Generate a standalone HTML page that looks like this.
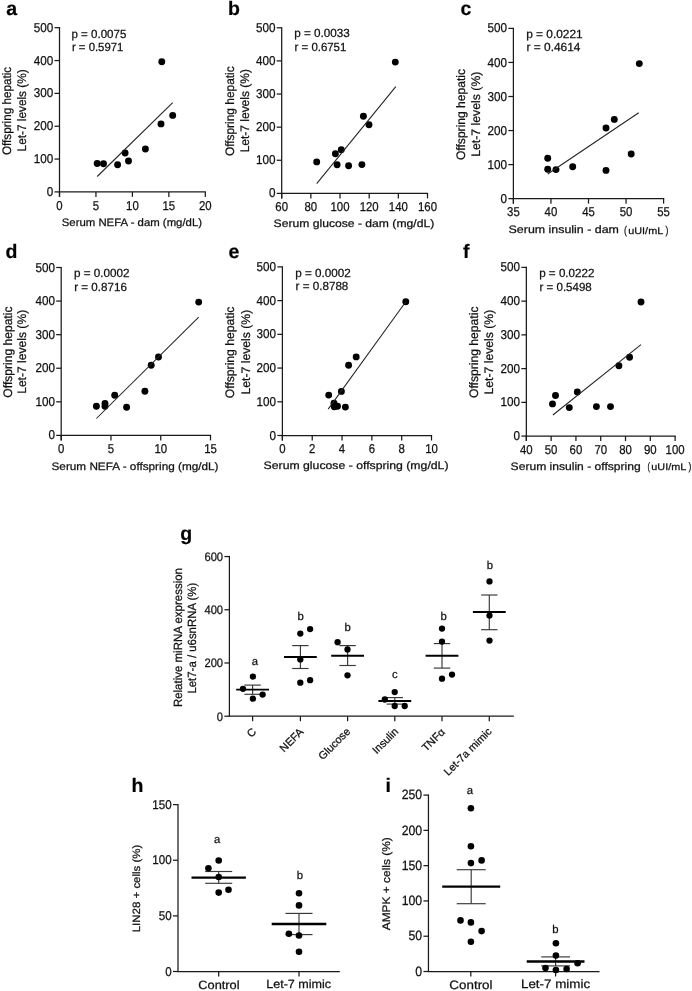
<!DOCTYPE html>
<html><head><meta charset="utf-8"><style>
html,body{margin:0;padding:0;background:#fff;width:692px;height:991px;overflow:hidden}
svg{display:block;font-family:"Liberation Sans", sans-serif;-webkit-font-smoothing:antialiased;will-change:transform;transform:translateZ(0)}
text{text-rendering:geometricPrecision;fill:#111;stroke:#111;stroke-width:0.25px}
</style></head><body>
<svg width="692" height="991" viewBox="0 0 692 991">
<rect width="692" height="991" fill="#fff"/>
<text x="6.20" y="15.40" font-size="19.5" font-weight="bold" style="fill:#000;stroke:#000;stroke-width:0.2px">a</text>
<line x1="59.50" y1="27.07" x2="59.50" y2="196.90" stroke="#1a1a1a" stroke-width="1.25"/>
<line x1="54.50" y1="191.90" x2="59.50" y2="191.90" stroke="#1a1a1a" stroke-width="1.25"/>
<text x="53.20" y="195.95" font-size="12.87" text-anchor="end" textLength="6.51" lengthAdjust="spacingAndGlyphs">0</text>
<line x1="54.50" y1="159.06" x2="59.50" y2="159.06" stroke="#1a1a1a" stroke-width="1.25"/>
<text x="53.20" y="163.11" font-size="12.87" text-anchor="end" textLength="19.52" lengthAdjust="spacingAndGlyphs">100</text>
<line x1="54.50" y1="126.22" x2="59.50" y2="126.22" stroke="#1a1a1a" stroke-width="1.25"/>
<text x="53.20" y="130.27" font-size="12.87" text-anchor="end" textLength="19.52" lengthAdjust="spacingAndGlyphs">200</text>
<line x1="54.50" y1="93.38" x2="59.50" y2="93.38" stroke="#1a1a1a" stroke-width="1.25"/>
<text x="53.20" y="97.43" font-size="12.87" text-anchor="end" textLength="19.52" lengthAdjust="spacingAndGlyphs">300</text>
<line x1="54.50" y1="60.54" x2="59.50" y2="60.54" stroke="#1a1a1a" stroke-width="1.25"/>
<text x="53.20" y="64.59" font-size="12.87" text-anchor="end" textLength="19.52" lengthAdjust="spacingAndGlyphs">400</text>
<line x1="54.50" y1="27.70" x2="59.50" y2="27.70" stroke="#1a1a1a" stroke-width="1.25"/>
<text x="53.20" y="31.75" font-size="12.87" text-anchor="end" textLength="19.52" lengthAdjust="spacingAndGlyphs">500</text>
<line x1="58.88" y1="191.90" x2="205.93" y2="191.90" stroke="#1a1a1a" stroke-width="1.25"/>
<line x1="59.50" y1="191.90" x2="59.50" y2="196.90" stroke="#1a1a1a" stroke-width="1.25"/>
<text x="59.50" y="209.53" font-size="12.87" text-anchor="middle" textLength="6.34" lengthAdjust="spacingAndGlyphs">0</text>
<line x1="95.95" y1="191.90" x2="95.95" y2="196.90" stroke="#1a1a1a" stroke-width="1.25"/>
<text x="95.95" y="209.53" font-size="12.87" text-anchor="middle" textLength="6.34" lengthAdjust="spacingAndGlyphs">5</text>
<line x1="132.40" y1="191.90" x2="132.40" y2="196.90" stroke="#1a1a1a" stroke-width="1.25"/>
<text x="132.40" y="209.53" font-size="12.87" text-anchor="middle" textLength="12.69" lengthAdjust="spacingAndGlyphs">10</text>
<line x1="168.85" y1="191.90" x2="168.85" y2="196.90" stroke="#1a1a1a" stroke-width="1.25"/>
<text x="168.85" y="209.53" font-size="12.87" text-anchor="middle" textLength="12.69" lengthAdjust="spacingAndGlyphs">15</text>
<line x1="205.30" y1="191.90" x2="205.30" y2="196.90" stroke="#1a1a1a" stroke-width="1.25"/>
<text x="205.30" y="209.53" font-size="12.87" text-anchor="middle" textLength="12.69" lengthAdjust="spacingAndGlyphs">20</text>
<circle cx="161.80" cy="61.80" r="3.45"/>
<circle cx="172.70" cy="115.40" r="3.45"/>
<circle cx="161.00" cy="123.90" r="3.45"/>
<circle cx="145.40" cy="149.00" r="3.45"/>
<circle cx="125.10" cy="153.00" r="3.45"/>
<circle cx="128.50" cy="161.00" r="3.45"/>
<circle cx="117.60" cy="164.80" r="3.45"/>
<circle cx="103.50" cy="163.70" r="3.45"/>
<circle cx="97.20" cy="163.50" r="3.45"/>
<line x1="97.20" y1="176.50" x2="172.70" y2="102.70" stroke="#222" stroke-width="1.05"/>
<text x="71.51" y="37.60" font-size="11.8" textLength="54.83" lengthAdjust="spacingAndGlyphs">p = 0.0075</text>
<text x="71.90" y="50.65" font-size="11.8" textLength="51.51" lengthAdjust="spacingAndGlyphs">r = 0.5971</text>
<text x="10.70" y="155.10" font-size="12.3" transform="rotate(-90 10.70 155.10)" textLength="88.26" lengthAdjust="spacingAndGlyphs">Offspring hepatic</text>
<text x="25.70" y="151.42" font-size="12.3" transform="rotate(-90 25.70 151.42)" textLength="82.10" lengthAdjust="spacingAndGlyphs">Let-7 levels (%)</text>
<text x="61.74" y="225.70" font-size="10.8" textLength="140.31" lengthAdjust="spacingAndGlyphs">Serum NEFA - dam (mg/dL)</text>
<text x="227.90" y="15.40" font-size="19.5" font-weight="bold" style="fill:#000;stroke:#000;stroke-width:0.2px">b</text>
<line x1="281.70" y1="27.18" x2="281.70" y2="198.40" stroke="#1a1a1a" stroke-width="1.25"/>
<line x1="276.70" y1="193.40" x2="281.70" y2="193.40" stroke="#1a1a1a" stroke-width="1.25"/>
<text x="275.40" y="197.45" font-size="12.87" text-anchor="end" textLength="6.51" lengthAdjust="spacingAndGlyphs">0</text>
<line x1="276.70" y1="160.28" x2="281.70" y2="160.28" stroke="#1a1a1a" stroke-width="1.25"/>
<text x="275.40" y="164.33" font-size="12.87" text-anchor="end" textLength="19.52" lengthAdjust="spacingAndGlyphs">100</text>
<line x1="276.70" y1="127.16" x2="281.70" y2="127.16" stroke="#1a1a1a" stroke-width="1.25"/>
<text x="275.40" y="131.21" font-size="12.87" text-anchor="end" textLength="19.52" lengthAdjust="spacingAndGlyphs">200</text>
<line x1="276.70" y1="94.04" x2="281.70" y2="94.04" stroke="#1a1a1a" stroke-width="1.25"/>
<text x="275.40" y="98.09" font-size="12.87" text-anchor="end" textLength="19.52" lengthAdjust="spacingAndGlyphs">300</text>
<line x1="276.70" y1="60.92" x2="281.70" y2="60.92" stroke="#1a1a1a" stroke-width="1.25"/>
<text x="275.40" y="64.97" font-size="12.87" text-anchor="end" textLength="19.52" lengthAdjust="spacingAndGlyphs">400</text>
<line x1="276.70" y1="27.80" x2="281.70" y2="27.80" stroke="#1a1a1a" stroke-width="1.25"/>
<text x="275.40" y="31.85" font-size="12.87" text-anchor="end" textLength="19.52" lengthAdjust="spacingAndGlyphs">500</text>
<line x1="281.07" y1="193.40" x2="428.12" y2="193.40" stroke="#1a1a1a" stroke-width="1.25"/>
<line x1="281.70" y1="193.40" x2="281.70" y2="198.40" stroke="#1a1a1a" stroke-width="1.25"/>
<text x="281.70" y="211.03" font-size="12.87" text-anchor="middle" textLength="12.69" lengthAdjust="spacingAndGlyphs">60</text>
<line x1="310.86" y1="193.40" x2="310.86" y2="198.40" stroke="#1a1a1a" stroke-width="1.25"/>
<text x="310.86" y="211.03" font-size="12.87" text-anchor="middle" textLength="12.69" lengthAdjust="spacingAndGlyphs">80</text>
<line x1="340.02" y1="193.40" x2="340.02" y2="198.40" stroke="#1a1a1a" stroke-width="1.25"/>
<text x="340.02" y="211.03" font-size="12.87" text-anchor="middle" textLength="19.03" lengthAdjust="spacingAndGlyphs">100</text>
<line x1="369.18" y1="193.40" x2="369.18" y2="198.40" stroke="#1a1a1a" stroke-width="1.25"/>
<text x="369.18" y="211.03" font-size="12.87" text-anchor="middle" textLength="19.03" lengthAdjust="spacingAndGlyphs">120</text>
<line x1="398.34" y1="193.40" x2="398.34" y2="198.40" stroke="#1a1a1a" stroke-width="1.25"/>
<text x="398.34" y="211.03" font-size="12.87" text-anchor="middle" textLength="19.03" lengthAdjust="spacingAndGlyphs">140</text>
<line x1="427.50" y1="193.40" x2="427.50" y2="198.40" stroke="#1a1a1a" stroke-width="1.25"/>
<text x="427.50" y="211.03" font-size="12.87" text-anchor="middle" textLength="19.03" lengthAdjust="spacingAndGlyphs">160</text>
<circle cx="395.30" cy="62.10" r="3.45"/>
<circle cx="363.40" cy="116.20" r="3.45"/>
<circle cx="369.00" cy="124.80" r="3.45"/>
<circle cx="341.30" cy="149.80" r="3.45"/>
<circle cx="335.40" cy="153.80" r="3.45"/>
<circle cx="316.70" cy="161.90" r="3.45"/>
<circle cx="337.10" cy="164.80" r="3.45"/>
<circle cx="348.60" cy="165.80" r="3.45"/>
<circle cx="361.90" cy="164.60" r="3.45"/>
<line x1="316.70" y1="183.70" x2="395.80" y2="86.70" stroke="#222" stroke-width="1.05"/>
<text x="294.20" y="37.00" font-size="11.8" textLength="55.67" lengthAdjust="spacingAndGlyphs">p = 0.0033</text>
<text x="294.59" y="50.90" font-size="11.8" textLength="51.72" lengthAdjust="spacingAndGlyphs">r = 0.6751</text>
<text x="234.10" y="156.11" font-size="12.3" transform="rotate(-90 234.10 156.11)" textLength="89.78" lengthAdjust="spacingAndGlyphs">Offspring hepatic</text>
<text x="249.50" y="152.33" font-size="12.3" transform="rotate(-90 249.50 152.33)" textLength="83.23" lengthAdjust="spacingAndGlyphs">Let-7 levels (%)</text>
<text x="273.60" y="226.70" font-size="10.8" textLength="160.60" lengthAdjust="spacingAndGlyphs">Serum glucose - dam (mg/dL)</text>
<text x="460.50" y="15.40" font-size="19.5" font-weight="bold" style="fill:#000;stroke:#000;stroke-width:0.2px">c</text>
<line x1="513.40" y1="27.78" x2="513.40" y2="203.65" stroke="#1a1a1a" stroke-width="1.25"/>
<line x1="508.40" y1="198.65" x2="513.40" y2="198.65" stroke="#1a1a1a" stroke-width="1.25"/>
<text x="507.10" y="202.70" font-size="12.87" text-anchor="end" textLength="6.51" lengthAdjust="spacingAndGlyphs">0</text>
<line x1="508.40" y1="164.60" x2="513.40" y2="164.60" stroke="#1a1a1a" stroke-width="1.25"/>
<text x="507.10" y="168.65" font-size="12.87" text-anchor="end" textLength="19.52" lengthAdjust="spacingAndGlyphs">100</text>
<line x1="508.40" y1="130.55" x2="513.40" y2="130.55" stroke="#1a1a1a" stroke-width="1.25"/>
<text x="507.10" y="134.60" font-size="12.87" text-anchor="end" textLength="19.52" lengthAdjust="spacingAndGlyphs">200</text>
<line x1="508.40" y1="96.50" x2="513.40" y2="96.50" stroke="#1a1a1a" stroke-width="1.25"/>
<text x="507.10" y="100.55" font-size="12.87" text-anchor="end" textLength="19.52" lengthAdjust="spacingAndGlyphs">300</text>
<line x1="508.40" y1="62.45" x2="513.40" y2="62.45" stroke="#1a1a1a" stroke-width="1.25"/>
<text x="507.10" y="66.50" font-size="12.87" text-anchor="end" textLength="19.52" lengthAdjust="spacingAndGlyphs">400</text>
<line x1="508.40" y1="28.40" x2="513.40" y2="28.40" stroke="#1a1a1a" stroke-width="1.25"/>
<text x="507.10" y="32.45" font-size="12.87" text-anchor="end" textLength="19.52" lengthAdjust="spacingAndGlyphs">500</text>
<line x1="512.77" y1="198.65" x2="664.23" y2="198.65" stroke="#1a1a1a" stroke-width="1.25"/>
<line x1="513.40" y1="198.65" x2="513.40" y2="203.65" stroke="#1a1a1a" stroke-width="1.25"/>
<text x="513.40" y="216.28" font-size="12.87" text-anchor="middle" textLength="12.69" lengthAdjust="spacingAndGlyphs">35</text>
<line x1="550.95" y1="198.65" x2="550.95" y2="203.65" stroke="#1a1a1a" stroke-width="1.25"/>
<text x="550.95" y="216.28" font-size="12.87" text-anchor="middle" textLength="12.69" lengthAdjust="spacingAndGlyphs">40</text>
<line x1="588.50" y1="198.65" x2="588.50" y2="203.65" stroke="#1a1a1a" stroke-width="1.25"/>
<text x="588.50" y="216.28" font-size="12.87" text-anchor="middle" textLength="12.69" lengthAdjust="spacingAndGlyphs">45</text>
<line x1="626.05" y1="198.65" x2="626.05" y2="203.65" stroke="#1a1a1a" stroke-width="1.25"/>
<text x="626.05" y="216.28" font-size="12.87" text-anchor="middle" textLength="12.69" lengthAdjust="spacingAndGlyphs">50</text>
<line x1="663.60" y1="198.65" x2="663.60" y2="203.65" stroke="#1a1a1a" stroke-width="1.25"/>
<text x="663.60" y="216.28" font-size="12.87" text-anchor="middle" textLength="12.69" lengthAdjust="spacingAndGlyphs">55</text>
<circle cx="639.30" cy="63.60" r="3.45"/>
<circle cx="614.30" cy="119.40" r="3.45"/>
<circle cx="606.00" cy="128.00" r="3.45"/>
<circle cx="631.20" cy="154.00" r="3.45"/>
<circle cx="547.70" cy="158.20" r="3.45"/>
<circle cx="547.70" cy="169.30" r="3.45"/>
<circle cx="556.00" cy="169.60" r="3.45"/>
<circle cx="572.70" cy="166.80" r="3.45"/>
<circle cx="606.00" cy="170.40" r="3.45"/>
<line x1="547.70" y1="174.00" x2="638.70" y2="112.70" stroke="#222" stroke-width="1.05"/>
<text x="526.18" y="38.25" font-size="11.8" textLength="56.55" lengthAdjust="spacingAndGlyphs">p = 0.0221</text>
<text x="526.56" y="51.25" font-size="11.8" textLength="53.94" lengthAdjust="spacingAndGlyphs">r = 0.4614</text>
<text x="464.60" y="160.02" font-size="12.3" transform="rotate(-90 464.60 160.02)" textLength="91.09" lengthAdjust="spacingAndGlyphs">Offspring hepatic</text>
<text x="480.50" y="156.86" font-size="12.3" transform="rotate(-90 480.50 156.86)" textLength="85.27" lengthAdjust="spacingAndGlyphs">Let-7 levels (%)</text>
<text x="508.59" y="232.80" font-size="10.8" textLength="110.38" lengthAdjust="spacingAndGlyphs">Serum insulin - dam</text>
<text x="623.91" y="233.60" font-size="11.2" textLength="2.89" lengthAdjust="spacingAndGlyphs">(</text>
<text x="628.25" y="233.60" font-size="9.6" textLength="34.96" lengthAdjust="spacingAndGlyphs">uUI/mL</text>
<text x="665.40" y="233.60" font-size="11.2" textLength="2.89" lengthAdjust="spacingAndGlyphs">)</text>
<text x="5.50" y="257.80" font-size="19.5" font-weight="bold" style="fill:#000;stroke:#000;stroke-width:0.2px">d</text>
<line x1="61.20" y1="266.88" x2="61.20" y2="440.40" stroke="#1a1a1a" stroke-width="1.25"/>
<line x1="56.20" y1="435.40" x2="61.20" y2="435.40" stroke="#1a1a1a" stroke-width="1.25"/>
<text x="54.90" y="439.45" font-size="12.87" text-anchor="end" textLength="6.51" lengthAdjust="spacingAndGlyphs">0</text>
<line x1="56.20" y1="401.82" x2="61.20" y2="401.82" stroke="#1a1a1a" stroke-width="1.25"/>
<text x="54.90" y="405.87" font-size="12.87" text-anchor="end" textLength="19.52" lengthAdjust="spacingAndGlyphs">100</text>
<line x1="56.20" y1="368.24" x2="61.20" y2="368.24" stroke="#1a1a1a" stroke-width="1.25"/>
<text x="54.90" y="372.29" font-size="12.87" text-anchor="end" textLength="19.52" lengthAdjust="spacingAndGlyphs">200</text>
<line x1="56.20" y1="334.66" x2="61.20" y2="334.66" stroke="#1a1a1a" stroke-width="1.25"/>
<text x="54.90" y="338.71" font-size="12.87" text-anchor="end" textLength="19.52" lengthAdjust="spacingAndGlyphs">300</text>
<line x1="56.20" y1="301.08" x2="61.20" y2="301.08" stroke="#1a1a1a" stroke-width="1.25"/>
<text x="54.90" y="305.13" font-size="12.87" text-anchor="end" textLength="19.52" lengthAdjust="spacingAndGlyphs">400</text>
<line x1="56.20" y1="267.50" x2="61.20" y2="267.50" stroke="#1a1a1a" stroke-width="1.25"/>
<text x="54.90" y="271.55" font-size="12.87" text-anchor="end" textLength="19.52" lengthAdjust="spacingAndGlyphs">500</text>
<line x1="60.58" y1="435.40" x2="211.12" y2="435.40" stroke="#1a1a1a" stroke-width="1.25"/>
<line x1="61.20" y1="435.40" x2="61.20" y2="440.40" stroke="#1a1a1a" stroke-width="1.25"/>
<text x="61.20" y="453.03" font-size="12.87" text-anchor="middle" textLength="6.34" lengthAdjust="spacingAndGlyphs">0</text>
<line x1="110.97" y1="435.40" x2="110.97" y2="440.40" stroke="#1a1a1a" stroke-width="1.25"/>
<text x="110.97" y="453.03" font-size="12.87" text-anchor="middle" textLength="6.34" lengthAdjust="spacingAndGlyphs">5</text>
<line x1="160.73" y1="435.40" x2="160.73" y2="440.40" stroke="#1a1a1a" stroke-width="1.25"/>
<text x="160.73" y="453.03" font-size="12.87" text-anchor="middle" textLength="12.69" lengthAdjust="spacingAndGlyphs">10</text>
<line x1="210.50" y1="435.40" x2="210.50" y2="440.40" stroke="#1a1a1a" stroke-width="1.25"/>
<text x="210.50" y="453.03" font-size="12.87" text-anchor="middle" textLength="12.69" lengthAdjust="spacingAndGlyphs">15</text>
<circle cx="198.70" cy="302.10" r="3.45"/>
<circle cx="158.50" cy="357.00" r="3.45"/>
<circle cx="151.20" cy="365.30" r="3.45"/>
<circle cx="144.90" cy="391.20" r="3.45"/>
<circle cx="114.70" cy="395.20" r="3.45"/>
<circle cx="105.00" cy="403.50" r="3.45"/>
<circle cx="105.00" cy="406.20" r="3.45"/>
<circle cx="96.40" cy="406.20" r="3.45"/>
<circle cx="126.60" cy="407.20" r="3.45"/>
<line x1="96.40" y1="418.50" x2="198.70" y2="317.10" stroke="#222" stroke-width="1.05"/>
<text x="73.90" y="276.85" font-size="11.8" textLength="55.54" lengthAdjust="spacingAndGlyphs">p = 0.0002</text>
<text x="74.28" y="290.75" font-size="11.8" textLength="52.58" lengthAdjust="spacingAndGlyphs">r = 0.8716</text>
<text x="11.60" y="397.62" font-size="12.3" transform="rotate(-90 11.60 397.62)" textLength="91.09" lengthAdjust="spacingAndGlyphs">Offspring hepatic</text>
<text x="26.10" y="393.84" font-size="12.3" transform="rotate(-90 26.10 393.84)" textLength="84.04" lengthAdjust="spacingAndGlyphs">Let-7 levels (%)</text>
<text x="51.52" y="469.60" font-size="10.8" textLength="166.95" lengthAdjust="spacingAndGlyphs">Serum NEFA - offspring (mg/dL)</text>
<text x="228.40" y="258.10" font-size="19.5" font-weight="bold" style="fill:#000;stroke:#000;stroke-width:0.2px">e</text>
<line x1="282.40" y1="266.27" x2="282.40" y2="440.50" stroke="#1a1a1a" stroke-width="1.25"/>
<line x1="277.40" y1="435.50" x2="282.40" y2="435.50" stroke="#1a1a1a" stroke-width="1.25"/>
<text x="276.10" y="439.55" font-size="12.87" text-anchor="end" textLength="6.51" lengthAdjust="spacingAndGlyphs">0</text>
<line x1="277.40" y1="401.78" x2="282.40" y2="401.78" stroke="#1a1a1a" stroke-width="1.25"/>
<text x="276.10" y="405.83" font-size="12.87" text-anchor="end" textLength="19.52" lengthAdjust="spacingAndGlyphs">100</text>
<line x1="277.40" y1="368.06" x2="282.40" y2="368.06" stroke="#1a1a1a" stroke-width="1.25"/>
<text x="276.10" y="372.11" font-size="12.87" text-anchor="end" textLength="19.52" lengthAdjust="spacingAndGlyphs">200</text>
<line x1="277.40" y1="334.34" x2="282.40" y2="334.34" stroke="#1a1a1a" stroke-width="1.25"/>
<text x="276.10" y="338.39" font-size="12.87" text-anchor="end" textLength="19.52" lengthAdjust="spacingAndGlyphs">300</text>
<line x1="277.40" y1="300.62" x2="282.40" y2="300.62" stroke="#1a1a1a" stroke-width="1.25"/>
<text x="276.10" y="304.67" font-size="12.87" text-anchor="end" textLength="19.52" lengthAdjust="spacingAndGlyphs">400</text>
<line x1="277.40" y1="266.90" x2="282.40" y2="266.90" stroke="#1a1a1a" stroke-width="1.25"/>
<text x="276.10" y="270.95" font-size="12.87" text-anchor="end" textLength="19.52" lengthAdjust="spacingAndGlyphs">500</text>
<line x1="281.77" y1="435.50" x2="432.12" y2="435.50" stroke="#1a1a1a" stroke-width="1.25"/>
<line x1="282.40" y1="435.50" x2="282.40" y2="440.50" stroke="#1a1a1a" stroke-width="1.25"/>
<text x="282.40" y="453.13" font-size="12.87" text-anchor="middle" textLength="6.34" lengthAdjust="spacingAndGlyphs">0</text>
<line x1="312.22" y1="435.50" x2="312.22" y2="440.50" stroke="#1a1a1a" stroke-width="1.25"/>
<text x="312.22" y="453.13" font-size="12.87" text-anchor="middle" textLength="6.34" lengthAdjust="spacingAndGlyphs">2</text>
<line x1="342.04" y1="435.50" x2="342.04" y2="440.50" stroke="#1a1a1a" stroke-width="1.25"/>
<text x="342.04" y="453.13" font-size="12.87" text-anchor="middle" textLength="6.34" lengthAdjust="spacingAndGlyphs">4</text>
<line x1="371.86" y1="435.50" x2="371.86" y2="440.50" stroke="#1a1a1a" stroke-width="1.25"/>
<text x="371.86" y="453.13" font-size="12.87" text-anchor="middle" textLength="6.34" lengthAdjust="spacingAndGlyphs">6</text>
<line x1="401.68" y1="435.50" x2="401.68" y2="440.50" stroke="#1a1a1a" stroke-width="1.25"/>
<text x="401.68" y="453.13" font-size="12.87" text-anchor="middle" textLength="6.34" lengthAdjust="spacingAndGlyphs">8</text>
<line x1="431.50" y1="435.50" x2="431.50" y2="440.50" stroke="#1a1a1a" stroke-width="1.25"/>
<text x="431.50" y="453.13" font-size="12.87" text-anchor="middle" textLength="12.69" lengthAdjust="spacingAndGlyphs">10</text>
<circle cx="405.80" cy="301.80" r="3.45"/>
<circle cx="356.20" cy="356.90" r="3.45"/>
<circle cx="348.60" cy="365.30" r="3.45"/>
<circle cx="341.40" cy="391.40" r="3.45"/>
<circle cx="328.70" cy="395.10" r="3.45"/>
<circle cx="334.00" cy="403.20" r="3.45"/>
<circle cx="334.30" cy="406.80" r="3.45"/>
<circle cx="337.50" cy="406.30" r="3.45"/>
<circle cx="345.40" cy="407.10" r="3.45"/>
<line x1="328.20" y1="409.10" x2="405.80" y2="301.80" stroke="#222" stroke-width="1.05"/>
<text x="295.20" y="276.90" font-size="11.8" textLength="55.54" lengthAdjust="spacingAndGlyphs">p = 0.0002</text>
<text x="295.58" y="289.65" font-size="11.8" textLength="52.78" lengthAdjust="spacingAndGlyphs">r = 0.8788</text>
<text x="234.40" y="398.22" font-size="12.3" transform="rotate(-90 234.40 398.22)" textLength="91.69" lengthAdjust="spacingAndGlyphs">Offspring hepatic</text>
<text x="249.90" y="394.45" font-size="12.3" transform="rotate(-90 249.90 394.45)" textLength="84.66" lengthAdjust="spacingAndGlyphs">Let-7 levels (%)</text>
<text x="263.59" y="469.40" font-size="10.8" textLength="184.91" lengthAdjust="spacingAndGlyphs">Serum glucose - offspring (mg/dL)</text>
<text x="462.90" y="257.50" font-size="19.5" font-weight="bold" style="fill:#000;stroke:#000;stroke-width:0.2px">f</text>
<line x1="526.35" y1="266.77" x2="526.35" y2="441.10" stroke="#1a1a1a" stroke-width="1.25"/>
<line x1="521.35" y1="436.10" x2="526.35" y2="436.10" stroke="#1a1a1a" stroke-width="1.25"/>
<text x="520.05" y="440.15" font-size="12.87" text-anchor="end" textLength="6.51" lengthAdjust="spacingAndGlyphs">0</text>
<line x1="521.35" y1="402.36" x2="526.35" y2="402.36" stroke="#1a1a1a" stroke-width="1.25"/>
<text x="520.05" y="406.41" font-size="12.87" text-anchor="end" textLength="19.52" lengthAdjust="spacingAndGlyphs">100</text>
<line x1="521.35" y1="368.62" x2="526.35" y2="368.62" stroke="#1a1a1a" stroke-width="1.25"/>
<text x="520.05" y="372.67" font-size="12.87" text-anchor="end" textLength="19.52" lengthAdjust="spacingAndGlyphs">200</text>
<line x1="521.35" y1="334.88" x2="526.35" y2="334.88" stroke="#1a1a1a" stroke-width="1.25"/>
<text x="520.05" y="338.93" font-size="12.87" text-anchor="end" textLength="19.52" lengthAdjust="spacingAndGlyphs">300</text>
<line x1="521.35" y1="301.14" x2="526.35" y2="301.14" stroke="#1a1a1a" stroke-width="1.25"/>
<text x="520.05" y="305.19" font-size="12.87" text-anchor="end" textLength="19.52" lengthAdjust="spacingAndGlyphs">400</text>
<line x1="521.35" y1="267.40" x2="526.35" y2="267.40" stroke="#1a1a1a" stroke-width="1.25"/>
<text x="520.05" y="271.45" font-size="12.87" text-anchor="end" textLength="19.52" lengthAdjust="spacingAndGlyphs">500</text>
<line x1="525.73" y1="436.10" x2="675.73" y2="436.10" stroke="#1a1a1a" stroke-width="1.25"/>
<line x1="526.35" y1="436.10" x2="526.35" y2="441.10" stroke="#1a1a1a" stroke-width="1.25"/>
<text x="526.35" y="453.73" font-size="12.87" text-anchor="middle" textLength="12.69" lengthAdjust="spacingAndGlyphs">40</text>
<line x1="551.14" y1="436.10" x2="551.14" y2="441.10" stroke="#1a1a1a" stroke-width="1.25"/>
<text x="551.14" y="453.73" font-size="12.87" text-anchor="middle" textLength="12.69" lengthAdjust="spacingAndGlyphs">50</text>
<line x1="575.93" y1="436.10" x2="575.93" y2="441.10" stroke="#1a1a1a" stroke-width="1.25"/>
<text x="575.93" y="453.73" font-size="12.87" text-anchor="middle" textLength="12.69" lengthAdjust="spacingAndGlyphs">60</text>
<line x1="600.73" y1="436.10" x2="600.73" y2="441.10" stroke="#1a1a1a" stroke-width="1.25"/>
<text x="600.73" y="453.73" font-size="12.87" text-anchor="middle" textLength="12.69" lengthAdjust="spacingAndGlyphs">70</text>
<line x1="625.52" y1="436.10" x2="625.52" y2="441.10" stroke="#1a1a1a" stroke-width="1.25"/>
<text x="625.52" y="453.73" font-size="12.87" text-anchor="middle" textLength="12.69" lengthAdjust="spacingAndGlyphs">80</text>
<line x1="650.31" y1="436.10" x2="650.31" y2="441.10" stroke="#1a1a1a" stroke-width="1.25"/>
<text x="650.31" y="453.73" font-size="12.87" text-anchor="middle" textLength="12.69" lengthAdjust="spacingAndGlyphs">90</text>
<line x1="675.10" y1="436.10" x2="675.10" y2="441.10" stroke="#1a1a1a" stroke-width="1.25"/>
<text x="675.10" y="453.73" font-size="12.87" text-anchor="middle" textLength="19.03" lengthAdjust="spacingAndGlyphs">100</text>
<circle cx="641.00" cy="302.00" r="3.45"/>
<circle cx="629.60" cy="357.30" r="3.45"/>
<circle cx="618.90" cy="365.70" r="3.45"/>
<circle cx="577.30" cy="391.90" r="3.45"/>
<circle cx="555.50" cy="395.50" r="3.45"/>
<circle cx="552.50" cy="403.90" r="3.45"/>
<circle cx="569.30" cy="407.60" r="3.45"/>
<circle cx="596.40" cy="406.60" r="3.45"/>
<circle cx="610.50" cy="406.60" r="3.45"/>
<line x1="552.90" y1="415.00" x2="641.00" y2="344.60" stroke="#222" stroke-width="1.05"/>
<text x="539.20" y="277.30" font-size="11.8" textLength="55.23" lengthAdjust="spacingAndGlyphs">p = 0.0222</text>
<text x="539.59" y="290.90" font-size="11.8" textLength="52.16" lengthAdjust="spacingAndGlyphs">r = 0.5498</text>
<text x="478.00" y="398.02" font-size="12.3" transform="rotate(-90 478.00 398.02)" textLength="91.49" lengthAdjust="spacingAndGlyphs">Offspring hepatic</text>
<text x="493.50" y="394.45" font-size="12.3" transform="rotate(-90 493.50 394.45)" textLength="84.66" lengthAdjust="spacingAndGlyphs">Let-7 levels (%)</text>
<text x="510.60" y="469.70" font-size="10.8" textLength="130.13" lengthAdjust="spacingAndGlyphs">Serum insulin - offspring</text>
<text x="647.38" y="470.20" font-size="11.0" textLength="2.51" lengthAdjust="spacingAndGlyphs">(</text>
<text x="651.35" y="470.20" font-size="9.6" textLength="34.86" lengthAdjust="spacingAndGlyphs">uUI/mL</text>
<text x="688.40" y="470.20" font-size="11.0" textLength="2.89" lengthAdjust="spacingAndGlyphs">)</text>
<text x="180.20" y="539.80" font-size="19.5" font-weight="bold" style="fill:#000;stroke:#000;stroke-width:0.2px">g</text>
<line x1="229.40" y1="555.92" x2="229.40" y2="716.20" stroke="#1a1a1a" stroke-width="1.25"/>
<line x1="224.40" y1="716.20" x2="229.40" y2="716.20" stroke="#1a1a1a" stroke-width="1.25"/>
<text x="223.10" y="720.68" font-size="12.32" text-anchor="end" textLength="6.23" lengthAdjust="spacingAndGlyphs">0</text>
<line x1="224.40" y1="662.98" x2="229.40" y2="662.98" stroke="#1a1a1a" stroke-width="1.25"/>
<text x="223.10" y="667.46" font-size="12.32" text-anchor="end" textLength="18.69" lengthAdjust="spacingAndGlyphs">200</text>
<line x1="224.40" y1="609.77" x2="229.40" y2="609.77" stroke="#1a1a1a" stroke-width="1.25"/>
<text x="223.10" y="614.25" font-size="12.32" text-anchor="end" textLength="18.69" lengthAdjust="spacingAndGlyphs">400</text>
<line x1="224.40" y1="556.55" x2="229.40" y2="556.55" stroke="#1a1a1a" stroke-width="1.25"/>
<text x="223.10" y="561.03" font-size="12.32" text-anchor="end" textLength="18.69" lengthAdjust="spacingAndGlyphs">600</text>
<line x1="228.78" y1="716.20" x2="513.83" y2="716.20" stroke="#1a1a1a" stroke-width="1.25"/>
<line x1="252.60" y1="716.20" x2="252.60" y2="721.20" stroke="#1a1a1a" stroke-width="1.25"/>
<line x1="300.40" y1="716.20" x2="300.40" y2="721.20" stroke="#1a1a1a" stroke-width="1.25"/>
<line x1="347.60" y1="716.20" x2="347.60" y2="721.20" stroke="#1a1a1a" stroke-width="1.25"/>
<line x1="394.80" y1="716.20" x2="394.80" y2="721.20" stroke="#1a1a1a" stroke-width="1.25"/>
<line x1="442.00" y1="716.20" x2="442.00" y2="721.20" stroke="#1a1a1a" stroke-width="1.25"/>
<line x1="489.30" y1="716.20" x2="489.30" y2="721.20" stroke="#1a1a1a" stroke-width="1.25"/>
<text x="256.90" y="732.40" font-size="10.9" text-anchor="end" transform="rotate(-45 256.90 732.40)">C</text>
<text x="304.20" y="732.50" font-size="10.9" text-anchor="end" transform="rotate(-45 304.20 732.50)">NEFA</text>
<text x="351.00" y="732.20" font-size="10.9" text-anchor="end" transform="rotate(-45 351.00 732.20)">Glucose</text>
<text x="399.00" y="732.20" font-size="10.9" text-anchor="end" transform="rotate(-45 399.00 732.20)">Insulin</text>
<text x="445.60" y="732.70" font-size="10.9" text-anchor="end" transform="rotate(-45 445.60 732.70)">TNF&#945;</text>
<text x="492.40" y="732.20" font-size="10.9" text-anchor="end" transform="rotate(-45 492.40 732.20)">Let-7a mimic</text>
<line x1="244.40" y1="685.10" x2="260.80" y2="685.10" stroke="#383838" stroke-width="1.15"/>
<line x1="244.40" y1="694.30" x2="260.80" y2="694.30" stroke="#383838" stroke-width="1.15"/>
<line x1="252.60" y1="685.10" x2="252.60" y2="694.30" stroke="#383838" stroke-width="1.15"/>
<line x1="236.20" y1="689.60" x2="269.00" y2="689.60" stroke="#000" stroke-width="1.95"/>
<circle cx="252.90" cy="676.60" r="3.15"/>
<circle cx="243.00" cy="688.80" r="3.15"/>
<circle cx="262.60" cy="694.60" r="3.15"/>
<circle cx="252.90" cy="698.70" r="3.15"/>
<text x="254.95" y="664.70" font-size="11.3" text-anchor="middle">a</text>
<line x1="292.20" y1="645.60" x2="308.60" y2="645.60" stroke="#383838" stroke-width="1.15"/>
<line x1="292.20" y1="668.50" x2="308.60" y2="668.50" stroke="#383838" stroke-width="1.15"/>
<line x1="300.40" y1="645.60" x2="300.40" y2="668.50" stroke="#383838" stroke-width="1.15"/>
<line x1="284.00" y1="656.90" x2="316.80" y2="656.90" stroke="#000" stroke-width="1.95"/>
<circle cx="300.30" cy="633.60" r="3.15"/>
<circle cx="310.10" cy="629.10" r="3.15"/>
<circle cx="300.30" cy="659.40" r="3.15"/>
<circle cx="300.30" cy="682.70" r="3.15"/>
<circle cx="310.10" cy="680.20" r="3.15"/>
<text x="300.65" y="620.40" font-size="11.3" text-anchor="middle">b</text>
<line x1="339.40" y1="645.60" x2="355.80" y2="645.60" stroke="#383838" stroke-width="1.15"/>
<line x1="339.40" y1="665.50" x2="355.80" y2="665.50" stroke="#383838" stroke-width="1.15"/>
<line x1="347.60" y1="645.60" x2="347.60" y2="665.50" stroke="#383838" stroke-width="1.15"/>
<line x1="331.20" y1="655.70" x2="364.00" y2="655.70" stroke="#000" stroke-width="1.95"/>
<circle cx="337.60" cy="642.20" r="3.15"/>
<circle cx="347.50" cy="649.50" r="3.15"/>
<circle cx="347.50" cy="675.30" r="3.15"/>
<text x="347.55" y="630.50" font-size="11.3" text-anchor="middle">b</text>
<line x1="386.60" y1="697.60" x2="403.00" y2="697.60" stroke="#383838" stroke-width="1.15"/>
<line x1="386.60" y1="704.10" x2="403.00" y2="704.10" stroke="#383838" stroke-width="1.15"/>
<line x1="394.80" y1="697.60" x2="394.80" y2="704.10" stroke="#383838" stroke-width="1.15"/>
<line x1="378.40" y1="701.00" x2="411.20" y2="701.00" stroke="#000" stroke-width="1.95"/>
<circle cx="394.70" cy="692.10" r="3.15"/>
<circle cx="384.80" cy="699.50" r="3.15"/>
<circle cx="394.70" cy="706.00" r="3.15"/>
<circle cx="404.70" cy="706.00" r="3.15"/>
<text x="394.90" y="677.80" font-size="11.3" text-anchor="middle">c</text>
<line x1="433.80" y1="643.60" x2="450.20" y2="643.60" stroke="#383838" stroke-width="1.15"/>
<line x1="433.80" y1="668.10" x2="450.20" y2="668.10" stroke="#383838" stroke-width="1.15"/>
<line x1="442.00" y1="643.60" x2="442.00" y2="668.10" stroke="#383838" stroke-width="1.15"/>
<line x1="425.60" y1="655.70" x2="458.40" y2="655.70" stroke="#000" stroke-width="1.95"/>
<circle cx="442.00" cy="628.60" r="3.15"/>
<circle cx="442.00" cy="641.60" r="3.15"/>
<circle cx="442.00" cy="678.70" r="3.15"/>
<circle cx="452.00" cy="674.60" r="3.15"/>
<text x="443.70" y="619.50" font-size="11.3" text-anchor="middle">b</text>
<line x1="481.10" y1="595.00" x2="497.50" y2="595.00" stroke="#383838" stroke-width="1.15"/>
<line x1="481.10" y1="629.70" x2="497.50" y2="629.70" stroke="#383838" stroke-width="1.15"/>
<line x1="489.30" y1="595.00" x2="489.30" y2="629.70" stroke="#383838" stroke-width="1.15"/>
<line x1="472.90" y1="611.90" x2="505.70" y2="611.90" stroke="#000" stroke-width="1.95"/>
<circle cx="489.50" cy="581.40" r="3.15"/>
<circle cx="489.50" cy="615.60" r="3.15"/>
<circle cx="489.50" cy="640.60" r="3.15"/>
<text x="489.85" y="568.90" font-size="11.3" text-anchor="middle">b</text>
<text x="181.90" y="707.09" font-size="11.9" transform="rotate(-90 181.90 707.09)" textLength="139.08" lengthAdjust="spacingAndGlyphs">Relative miRNA expression</text>
<text x="196.20" y="693.58" font-size="11.9" transform="rotate(-90 196.20 693.58)" textLength="110.83" lengthAdjust="spacingAndGlyphs">Let7-a / u6snRNA (%)</text>
<text x="131.60" y="791.50" font-size="19.5" font-weight="bold" style="fill:#000;stroke:#000;stroke-width:0.2px">h</text>
<line x1="178.00" y1="803.98" x2="178.00" y2="971.50" stroke="#1a1a1a" stroke-width="1.25"/>
<line x1="173.00" y1="971.50" x2="178.00" y2="971.50" stroke="#1a1a1a" stroke-width="1.25"/>
<text x="171.70" y="975.52" font-size="12.76" text-anchor="end" textLength="6.45" lengthAdjust="spacingAndGlyphs">0</text>
<line x1="173.00" y1="915.87" x2="178.00" y2="915.87" stroke="#1a1a1a" stroke-width="1.25"/>
<text x="171.70" y="919.89" font-size="12.76" text-anchor="end" textLength="12.90" lengthAdjust="spacingAndGlyphs">50</text>
<line x1="173.00" y1="860.23" x2="178.00" y2="860.23" stroke="#1a1a1a" stroke-width="1.25"/>
<text x="171.70" y="864.25" font-size="12.76" text-anchor="end" textLength="19.35" lengthAdjust="spacingAndGlyphs">100</text>
<line x1="173.00" y1="804.60" x2="178.00" y2="804.60" stroke="#1a1a1a" stroke-width="1.25"/>
<text x="171.70" y="808.62" font-size="12.76" text-anchor="end" textLength="19.35" lengthAdjust="spacingAndGlyphs">150</text>
<line x1="177.38" y1="971.50" x2="339.82" y2="971.50" stroke="#1a1a1a" stroke-width="1.25"/>
<line x1="218.70" y1="971.50" x2="218.70" y2="976.50" stroke="#1a1a1a" stroke-width="1.25"/>
<line x1="299.00" y1="971.50" x2="299.00" y2="976.50" stroke="#1a1a1a" stroke-width="1.25"/>
<text x="198.30" y="988.50" font-size="11.9" textLength="41.31" lengthAdjust="spacingAndGlyphs">Control</text>
<text x="266.22" y="987.90" font-size="11.9" textLength="64.86" lengthAdjust="spacingAndGlyphs">Let-7 mimic</text>
<line x1="205.20" y1="871.50" x2="232.20" y2="871.50" stroke="#383838" stroke-width="1.15"/>
<line x1="205.20" y1="883.30" x2="232.20" y2="883.30" stroke="#383838" stroke-width="1.15"/>
<line x1="218.70" y1="871.50" x2="218.70" y2="883.30" stroke="#383838" stroke-width="1.15"/>
<line x1="191.50" y1="877.60" x2="245.90" y2="877.60" stroke="#000" stroke-width="2.3"/>
<circle cx="218.70" cy="860.50" r="3.3"/>
<circle cx="208.40" cy="868.20" r="3.3"/>
<circle cx="218.70" cy="877.00" r="3.3"/>
<circle cx="218.70" cy="892.60" r="3.3"/>
<circle cx="228.50" cy="889.80" r="3.3"/>
<text x="217.25" y="842.90" font-size="11.3" text-anchor="middle">a</text>
<line x1="285.50" y1="913.40" x2="312.50" y2="913.40" stroke="#383838" stroke-width="1.15"/>
<line x1="285.50" y1="934.60" x2="312.50" y2="934.60" stroke="#383838" stroke-width="1.15"/>
<line x1="299.00" y1="913.40" x2="299.00" y2="934.60" stroke="#383838" stroke-width="1.15"/>
<line x1="271.70" y1="924.00" x2="326.30" y2="924.00" stroke="#000" stroke-width="2.3"/>
<circle cx="299.00" cy="893.30" r="3.3"/>
<circle cx="299.00" cy="905.40" r="3.3"/>
<circle cx="288.90" cy="933.80" r="3.3"/>
<circle cx="299.00" cy="935.50" r="3.3"/>
<circle cx="299.00" cy="951.80" r="3.3"/>
<text x="299.85" y="878.70" font-size="11.3" text-anchor="middle">b</text>
<text x="140.00" y="932.29" font-size="10.6" transform="rotate(-90 140.00 932.29)" textLength="87.65" lengthAdjust="spacingAndGlyphs">LIN28 + cells (%)</text>
<text x="385.60" y="791.50" font-size="19.5" font-weight="bold" style="fill:#000;stroke:#000;stroke-width:0.2px">i</text>
<line x1="428.45" y1="794.48" x2="428.45" y2="971.50" stroke="#1a1a1a" stroke-width="1.25"/>
<line x1="423.45" y1="971.50" x2="428.45" y2="971.50" stroke="#1a1a1a" stroke-width="1.25"/>
<text x="422.15" y="975.76" font-size="13.53" text-anchor="end" textLength="6.84" lengthAdjust="spacingAndGlyphs">0</text>
<line x1="423.45" y1="936.22" x2="428.45" y2="936.22" stroke="#1a1a1a" stroke-width="1.25"/>
<text x="422.15" y="940.48" font-size="13.53" text-anchor="end" textLength="13.68" lengthAdjust="spacingAndGlyphs">50</text>
<line x1="423.45" y1="900.94" x2="428.45" y2="900.94" stroke="#1a1a1a" stroke-width="1.25"/>
<text x="422.15" y="905.20" font-size="13.53" text-anchor="end" textLength="20.52" lengthAdjust="spacingAndGlyphs">100</text>
<line x1="423.45" y1="865.66" x2="428.45" y2="865.66" stroke="#1a1a1a" stroke-width="1.25"/>
<text x="422.15" y="869.92" font-size="13.53" text-anchor="end" textLength="20.52" lengthAdjust="spacingAndGlyphs">150</text>
<line x1="423.45" y1="830.38" x2="428.45" y2="830.38" stroke="#1a1a1a" stroke-width="1.25"/>
<text x="422.15" y="834.64" font-size="13.53" text-anchor="end" textLength="20.52" lengthAdjust="spacingAndGlyphs">200</text>
<line x1="423.45" y1="795.10" x2="428.45" y2="795.10" stroke="#1a1a1a" stroke-width="1.25"/>
<text x="422.15" y="799.36" font-size="13.53" text-anchor="end" textLength="20.52" lengthAdjust="spacingAndGlyphs">250</text>
<line x1="427.82" y1="971.50" x2="599.52" y2="971.50" stroke="#1a1a1a" stroke-width="1.25"/>
<line x1="470.80" y1="971.50" x2="470.80" y2="976.50" stroke="#1a1a1a" stroke-width="1.25"/>
<line x1="555.60" y1="971.50" x2="555.60" y2="976.50" stroke="#1a1a1a" stroke-width="1.25"/>
<text x="449.37" y="988.60" font-size="12.2" textLength="43.18" lengthAdjust="spacingAndGlyphs">Control</text>
<text x="520.95" y="988.00" font-size="12.2" textLength="69.15" lengthAdjust="spacingAndGlyphs">Let-7 mimic</text>
<line x1="456.70" y1="869.70" x2="485.70" y2="869.70" stroke="#383838" stroke-width="1.15"/>
<line x1="456.70" y1="903.70" x2="485.70" y2="903.70" stroke="#383838" stroke-width="1.15"/>
<line x1="471.20" y1="869.70" x2="471.20" y2="903.70" stroke="#383838" stroke-width="1.15"/>
<line x1="442.20" y1="886.70" x2="500.20" y2="886.70" stroke="#000" stroke-width="2.3"/>
<circle cx="470.90" cy="808.30" r="3.3"/>
<circle cx="470.90" cy="846.30" r="3.3"/>
<circle cx="470.90" cy="863.10" r="3.3"/>
<circle cx="481.60" cy="860.40" r="3.3"/>
<circle cx="460.50" cy="920.40" r="3.3"/>
<circle cx="470.90" cy="922.40" r="3.3"/>
<circle cx="481.60" cy="931.10" r="3.3"/>
<circle cx="470.90" cy="941.70" r="3.3"/>
<text x="469.80" y="794.10" font-size="11.3" text-anchor="middle">a</text>
<line x1="541.20" y1="956.90" x2="570.00" y2="956.90" stroke="#383838" stroke-width="1.15"/>
<line x1="541.20" y1="965.90" x2="570.00" y2="965.90" stroke="#383838" stroke-width="1.15"/>
<line x1="555.60" y1="956.90" x2="555.60" y2="965.90" stroke="#383838" stroke-width="1.15"/>
<line x1="526.70" y1="961.50" x2="584.50" y2="961.50" stroke="#000" stroke-width="2.3"/>
<circle cx="555.90" cy="943.30" r="3.3"/>
<circle cx="555.90" cy="955.50" r="3.3"/>
<circle cx="545.50" cy="968.00" r="3.3"/>
<circle cx="555.90" cy="970.00" r="3.3"/>
<circle cx="566.60" cy="969.00" r="3.3"/>
<circle cx="577.60" cy="963.30" r="3.3"/>
<text x="555.40" y="933.30" font-size="11.3" text-anchor="middle">b</text>
<text x="390.00" y="930.27" font-size="11.0" transform="rotate(-90 390.00 930.27)" textLength="93.06" lengthAdjust="spacingAndGlyphs">AMPK + cells (%)</text>
</svg></body></html>
